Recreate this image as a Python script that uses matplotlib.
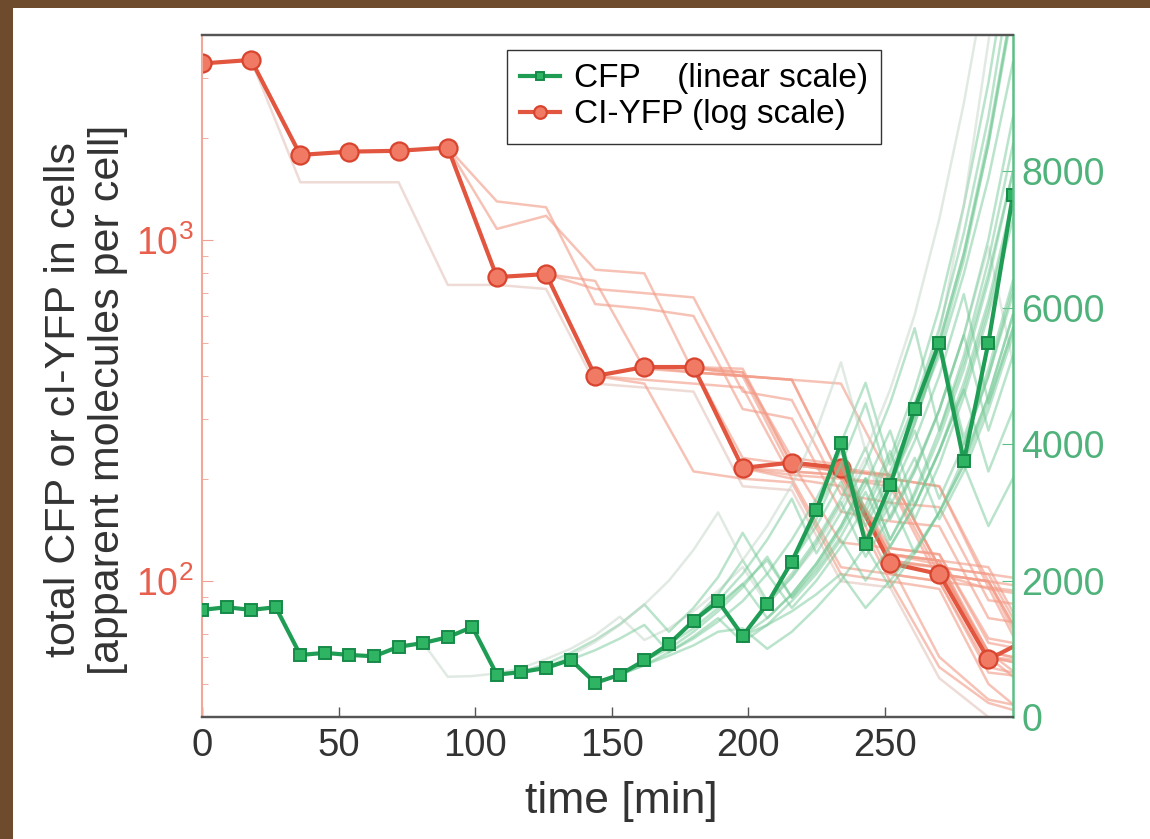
import matplotlib
matplotlib.use('Agg')
import matplotlib.pyplot as plt
from matplotlib.patches import Rectangle
from matplotlib.ticker import LogLocator, NullFormatter
import numpy as np

plt.rcParams['font.family'] = ['Liberation Sans', 'DejaVu Sans']
plt.rcParams['mathtext.default'] = 'regular'

# time grids [min]
t9 = np.arange(0, 298, 9)      # CFP frames, 0..297
t18 = np.arange(0, 307, 18)    # cI-YFP frames, 0..306 (last one is past the edge)

# main lineage
cfp_main = [1570, 1610, 1570, 1610, 910, 940, 910, 890, 1030, 1085, 1170, 1320,
            620, 660, 720, 840, 500, 620, 830, 1070, 1410, 1700, 1190, 1660,
            2280, 3040, 4020, 2540, 3400, 4520, 5490, 3750, 5490, 7660]
yfp_main = [3300, 3380, 1780, 1820, 1830, 1870, 780, 796, 400, 425, 425,
            215, 223, 215, 113, 105, 59, 70]

# other lineages: (index where the line starts, values)
cfp_faint_start = [9, 13, 15, 16, 18, 19, 20, 21, 22, 24, 25, 26, 27, 28, 29, 30,
                   17, 20, 23, 24, 26, 27, 28, 30, 31, 22, 14]
cfp_faint = [
    [1085, 590, 600, 640, 720, 850, 1000, 1200, 1470, 1130, 1300, 1550, 1850,
     2200, 1650, 2050, 2500, 3100, 3800, 2900, 3600, 4500, 5600, 6900, 5200],
    [660, 780, 940, 1130, 1360, 1650, 1250, 1600, 2050, 2700, 2100, 2600, 3200,
     3900, 2900, 3600, 4400, 5300, 6500, 7900, 9600],
    [840, 980, 1150, 1350, 950, 1150, 1400, 1700, 2100, 1600, 2000, 2500, 3100,
     3900, 2900, 3700, 4700, 5900, 7300],
    [500, 620, 760, 900, 1050, 1250, 1300, 1000, 1250, 1600, 2000, 2500, 1900,
     2400, 3000, 3700, 4600, 5700],
    [830, 1000, 1250, 1550, 1900, 2350, 1750, 2200, 2750, 3400, 4200, 3100,
     3900, 4900, 6100, 7600],
    [1070, 1300, 1600, 1950, 1450, 1800, 2250, 2800, 3500, 2600, 3300, 4200,
     5300, 6700, 8400],
    [1410, 1800, 2300, 1700, 2100, 2600, 3200, 3950, 2900, 3600, 4500, 5600,
     7000, 8800],
    [1700, 2100, 2600, 3200, 2400, 3000, 3700, 4600, 5700, 4200, 5200, 6500, 8000],
    [1190, 1350, 1550, 1800, 2100, 1600, 2000, 2450, 3000, 3700, 2800, 3500],
    [2280, 2800, 3450, 2600, 3250, 4050, 5000, 6200, 4600, 5700],
    [3040, 3700, 2800, 3500, 4400, 5500, 6800, 8400, 10400],
    [4020, 3000, 3800, 4800, 6000, 7500, 9300, 11500],
    [2540, 3200, 2400, 3000, 3800, 4700, 5900],
    [3400, 4300, 5400, 4000, 5000, 6200],
    [4520, 5600, 7500, 9900, 12500],
    [5490, 6800, 8500, 10500],
    [620, 760, 950, 1180, 1450, 1100, 1350, 1700, 2100, 2600, 2000, 2500, 3100,
     3900, 4800, 3600, 4500],
    [1410, 1650, 1950, 2300, 1750, 2150, 2650, 3300, 2500, 3100, 3900, 4800,
     6000, 7500],
    [1660, 2050, 2550, 3150, 2350, 2950, 3650, 4500, 5600, 4200, 5300],
    [2280, 2900, 3700, 4600, 3400, 4300, 5400, 6700, 8400, 10500],
    [4020, 4900, 3700, 4600, 5700, 7100, 8800, 11000],
    [2540, 3100, 3800, 2900, 3600, 4500, 5600],
    [3400, 4200, 3200, 4000, 5000, 6300],
    [5490, 4100, 5100, 6400],
    [3750, 4700, 5900],
    [1190, 1450, 1800, 2250, 2800, 3500, 2600, 3250, 4100, 5100, 6400, 8000],
    [720, 900, 1100, 1350, 1650, 2000, 2450, 3000, 2300, 2800, 3400, 4200, 5200,
     3900, 4800, 5900, 7300, 9000, 11000, 13000],
]
cfp_grey = [0, 14, 26]

yfp_faint_start = [1, 5, 5, 7, 8, 9, 7, 10, 11, 10, 12, 13, 13, 14, 14, 15,
                   10, 11, 12, 12, 13, 14, 15, 11, 9, 8, 10]
yfp_faint = [
    [3380, 1480, 1480, 1480, 740, 740, 720, 380, 370, 360, 190, 185, 100, 96, 52, 40, 36],
    [1870, 1080, 1180, 820, 800, 410, 400, 390, 200, 195, 105, 100, 56],
    [1870, 1300, 1250, 650, 630, 600, 320, 300, 160, 150, 145, 78, 74],
    [796, 720, 700, 680, 360, 340, 180, 170, 165, 88, 84],
    [400, 390, 380, 370, 200, 190, 100, 95, 50, 38],
    [425, 420, 410, 220, 210, 205, 110, 105, 58],
    [796, 760, 420, 410, 400, 390, 200, 190, 100, 96, 50],
    [425, 400, 390, 380, 200, 190, 96, 92],
    [215, 205, 200, 105, 100, 54, 52],
    [425, 230, 220, 210, 120, 115, 62, 58],
    [223, 210, 120, 115, 110, 60],
    [215, 200, 190, 100, 95],
    [215, 120, 115, 60, 58],
    [113, 105, 100, 52],
    [113, 60, 45, 42],
    [105, 95, 90],
    [425, 410, 230, 220, 120, 112, 60, 56],
    [215, 210, 205, 115, 110, 62, 48],
    [223, 215, 125, 120, 66, 62],
    [223, 130, 125, 120, 68, 64],
    [215, 205, 110, 105, 100],
    [113, 110, 62, 58],
    [105, 100, 56],
    [215, 200, 110, 105, 100, 56, 52],
    [425, 410, 400, 210, 205, 115, 110, 60, 56],
    [400, 380, 210, 200, 195, 105, 100, 56, 44, 40],
    [425, 420, 220, 210, 205, 110, 60, 46],
]

red = '#e2553f'
green = '#1f9d55'
brown = '#6e4b2c'

fig = plt.figure(figsize=(11.5, 8.39), dpi=100, facecolor='white')
# wooden frame along the top and left edge of the screenshot
fig.patches.append(Rectangle((0, 1 - 8/839), 1, 8/839, transform=fig.transFigure,
                             facecolor=brown, edgecolor='none'))
fig.patches.append(Rectangle((0, 0), 13/1150, 1, transform=fig.transFigure,
                             facecolor=brown, edgecolor='none'))
ax1 = fig.add_axes([202/1150, 1 - 717/839, 811/1150, 682/839])
ax2 = ax1.twinx()

for i, (s, v) in enumerate(zip(yfp_faint_start, yfp_faint)):
    c = '#e3c4bc' if i == 0 else '#f39a86'
    ax1.plot(t18[s:s + len(v)], v, color=c, lw=1.8, alpha=0.6)
ln_r, = ax1.plot(t18, yfp_main, color=red, lw=3, marker='o', ms=13,
                 mfc='#f07a64', mec='#d9442f', mew=1.6, markevery=list(range(17)))

for i, (s, v) in enumerate(zip(cfp_faint_start, cfp_faint)):
    c = '#c3d6c8' if i in cfp_grey else '#74c996'
    ax2.plot(t9[s:s + len(v)], v, color=c, lw=1.8, alpha=0.5)
ln_g, = ax2.plot(t9, cfp_main, color=green, lw=3, marker='s', ms=9,
                 mfc='#2fb463', mec='#168a47', mew=1.4)

ax1.set_yscale('log')
ax1.set_xlim(0, 297)
ax1.set_ylim(40, 4000)
ax2.set_ylim(0, 10000)
ax1.set_xticks(np.arange(0, 251, 50))
ax2.set_yticks(np.arange(0, 8001, 2000))
ax1.yaxis.set_major_locator(LogLocator(base=10, numticks=5))
ax1.yaxis.set_minor_locator(LogLocator(base=10, subs=np.arange(2, 10), numticks=10))
ax1.yaxis.set_minor_formatter(NullFormatter())

ax1.tick_params(axis='x', direction='in', length=7, width=1, colors='#555555',
                labelcolor='#333333', labelsize=27.5, pad=8)
ax1.tick_params(axis='y', which='major', direction='in', length=8, color='#f0a090',
                labelcolor='#e8604d', labelsize=27, pad=6)
ax1.tick_params(axis='y', which='minor', direction='in', length=4, color='#f0a090')
ax2.tick_params(axis='y', direction='in', length=8, color='#5cbf87',
                labelcolor='#4fb27a', labelsize=27, pad=6)

for a in (ax1, ax2):
    a.spines['top'].set_color('#555555')
    a.spines['bottom'].set_color('#555555')
    a.spines['top'].set_linewidth(1.6)
    a.spines['bottom'].set_linewidth(1.6)
ax1.spines['left'].set_color('#f2a898')
ax1.spines['left'].set_linewidth(1.5)
ax1.spines['right'].set_visible(False)
ax2.spines['left'].set_visible(False)
ax2.spines['right'].set_color('#5cbf87')
ax2.spines['right'].set_linewidth(1.8)

ax1.set_xlabel('time [min]', fontsize=32, color='#333333', labelpad=12)
ax1.xaxis.label.set_x(0.517)
ax1.set_ylabel('total CFP or cI-YFP in cells\n[apparent molecules per cell]',
               fontsize=31, color='#333333', labelpad=6, linespacing=1.12)
ax1.yaxis.label.set_y(0.465)

ax2.legend([ln_g, ln_r], ['CFP    (linear scale)', 'CI-YFP (log scale)'],
           loc='upper left', bbox_to_anchor=(0.376, 0.978), fontsize=24,
           fancybox=False, edgecolor='#333333', framealpha=1, handlelength=1.2,
           handletextpad=0.4, borderaxespad=0, borderpad=0.4, labelspacing=0.15,
           markerscale=0.7)

fig.savefig('out.png', dpi=100)
